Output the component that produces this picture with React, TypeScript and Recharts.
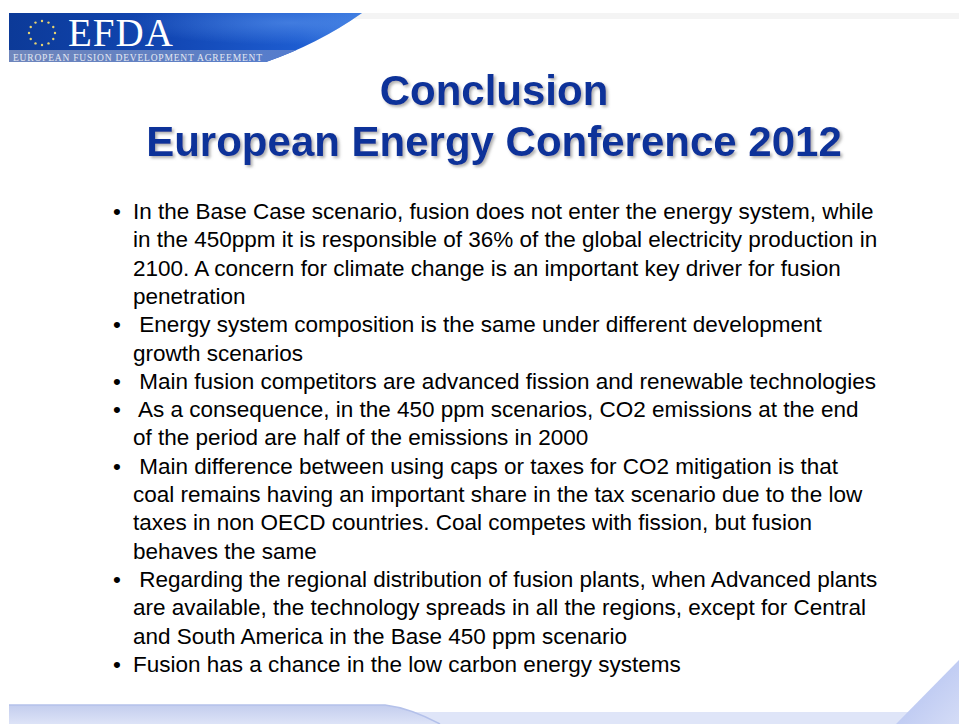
import { Surface, Polygon, Rectangle, Dot } from "recharts";

const SANS = "'Liberation Sans', Arial, sans-serif";
const SERIF = "'Liberation Serif', 'Times New Roman', serif";

const TITLE_LINES = ["Conclusion", "European Energy Conference 2012"];

const BULLETS: string[][] = [
  [
    "In the Base Case scenario, fusion does not enter the energy system, while",
    "in the 450ppm it is responsible of 36% of the global electricity production in",
    "2100. A concern for climate change is an important key driver for fusion",
    "penetration",
  ],
  [" Energy system composition is the same under different development", "growth scenarios"],
  [" Main fusion competitors are advanced fission and renewable technologies"],
  [
    " As a consequence, in the 450 ppm scenarios, CO2 emissions at the end",
    "of the period are half of the emissions in 2000",
  ],
  [
    " Main difference between using caps or taxes for CO2 mitigation is that",
    "coal remains having an important share in the tax scenario due to the low",
    "taxes in non OECD countries. Coal competes with fission, but fusion",
    "behaves the same",
  ],
  [
    " Regarding the regional distribution of fusion plants, when Advanced plants",
    "are available, the technology spreads in all the regions, except for Central",
    "and South America in the Base 450 ppm scenario",
  ],
  ["Fusion has a chance in the low carbon energy systems"],
];

const LOGO_TEXT = "EFDA";
const LOGO_SUBTITLE = "EUROPEAN FUSION DEVELOPMENT AGREEMENT";
const STAR_ANGLES = [0, 30, 60, 90, 120, 150, 180, 210, 240, 270, 300, 330];

const W = 959;
const H = 724;
const BODY_SIZE = 22.5;
const LINE_H = 28.3;
const FIRST_BASELINE = 219;
const TEXT_X = 133;

export default function App() {
  // flatten bullets into positioned lines
  let row = 0;
  const lines: { text: string; y: number; bullet: boolean }[] = [];
  BULLETS.forEach((b) => {
    b.forEach((t, i) => {
      lines.push({ text: t, y: FIRST_BASELINE + row * LINE_H, bullet: i === 0 });
      row++;
    });
  });

  return (
    <div style={{ position: "absolute", left: 0, top: 0, width: W, height: H, background: "#fff" }}>
      <Surface width={W} height={H}>
        <defs>
          <linearGradient id="banner" x1="0" y1="0" x2="1" y2="0">
            <stop offset="0%" stopColor="#0c3a98" />
            <stop offset="45%" stopColor="#1247b4" />
            <stop offset="80%" stopColor="#1d5cd0" />
            <stop offset="100%" stopColor="#3a7ae0" />
          </linearGradient>
          <radialGradient id="glow" cx="0.78" cy="0.2" r="0.45">
            <stop offset="0%" stopColor="#5a92ea" stopOpacity={0.6} />
            <stop offset="100%" stopColor="#5a92ea" stopOpacity={0} />
          </radialGradient>
          <linearGradient id="strip" x1="0" y1="0" x2="1" y2="0">
            <stop offset="0%" stopColor="#6f86bc" />
            <stop offset="60%" stopColor="#5b7ec6" />
            <stop offset="100%" stopColor="#4c7ad6" />
          </linearGradient>
          <linearGradient id="band" x1="0" y1="0" x2="0" y2="1">
            <stop offset="0%" stopColor="#c3cdee" />
            <stop offset="100%" stopColor="#dde3f7" />
          </linearGradient>
          <linearGradient id="swoosh" x1="0" y1="0" x2="1" y2="1">
            <stop offset="0%" stopColor="#aebdf0" />
            <stop offset="100%" stopColor="#d4dcf6" />
          </linearGradient>
          <clipPath id="bannerClip">
            <path d="M9,13 L362,13 Q318,44 266,62 L9,62 Z" />
          </clipPath>
          <filter id="shadow" x="-5%" y="-20%" width="110%" height="150%">
            <feDropShadow dx="2" dy="2" stdDeviation="1.4" floodColor="#7a7a7a" floodOpacity={0.6} />
          </filter>
        </defs>

        {/* faint top rule */}
        <Rectangle x={340} y={13} width={W - 340} height={6} fill="#f4f4f4" />

        {/* EFDA banner */}
        <g clipPath="url(#bannerClip)">
          <Rectangle x={9} y={13} width={360} height={49} fill="url(#banner)" />
          <Rectangle x={9} y={13} width={360} height={49} fill="url(#glow)" />
          <Rectangle x={9} y={50} width={360} height={12} fill="url(#strip)" />
        </g>
        {STAR_ANGLES.map((a) => (
          <Dot
            key={a}
            cx={42 + 13 * Math.cos((a * Math.PI) / 180)}
            cy={33 + 12 * Math.sin((a * Math.PI) / 180)}
            r={1.2}
            fill="#e8d470"
          />
        ))}
        <text x={68} y={46} fontFamily={SERIF} fontSize={39} fill="#ffffff" textLength={105}>
          {LOGO_TEXT}
        </text>
        <text x={13} y={61} fontFamily={SERIF} fontSize={9.5} fill="#e4e8f2" textLength={249}>
          {LOGO_SUBTITLE}
        </text>

        {/* title */}
        {TITLE_LINES.map((t, i) => (
          <text
            key={t}
            x={494}
            y={105 + i * 51}
            textAnchor="middle"
            fontFamily={SANS}
            fontWeight="bold"
            fontSize={42}
            fill="#0a3399"
            filter="url(#shadow)"
          >
            {t}
          </text>
        ))}

        {/* bullets */}
        {lines.map((l, i) => (
          <g key={i}>
            {l.bullet && (
              <text x={TEXT_X - 20} y={l.y} fontFamily={SANS} fontSize={BODY_SIZE} fill="#000">
                •
              </text>
            )}
            <text x={TEXT_X} y={l.y} fontFamily={SANS} fontSize={BODY_SIZE} fill="#000" xmlSpace="preserve">
              {l.text}
            </text>
          </g>
        ))}

        {/* bottom band */}
        <Rectangle x={9} y={712} width={W - 9} height={12} fill="#dfe5f8" />
        <path d="M9,705 L385,705 Q410,708 440,724 L9,724 Z" fill="url(#band)" />
        <path d="M9,705 L385,705 Q410,708 440,724" fill="none" stroke="#b4c1ea" strokeWidth={1.5} />
        <Polygon
          points={[
            { x: 959, y: 660 },
            { x: 896, y: 724 },
            { x: 959, y: 724 },
          ]}
          fill="url(#swoosh)"
        />
      </Surface>
    </div>
  );
}
